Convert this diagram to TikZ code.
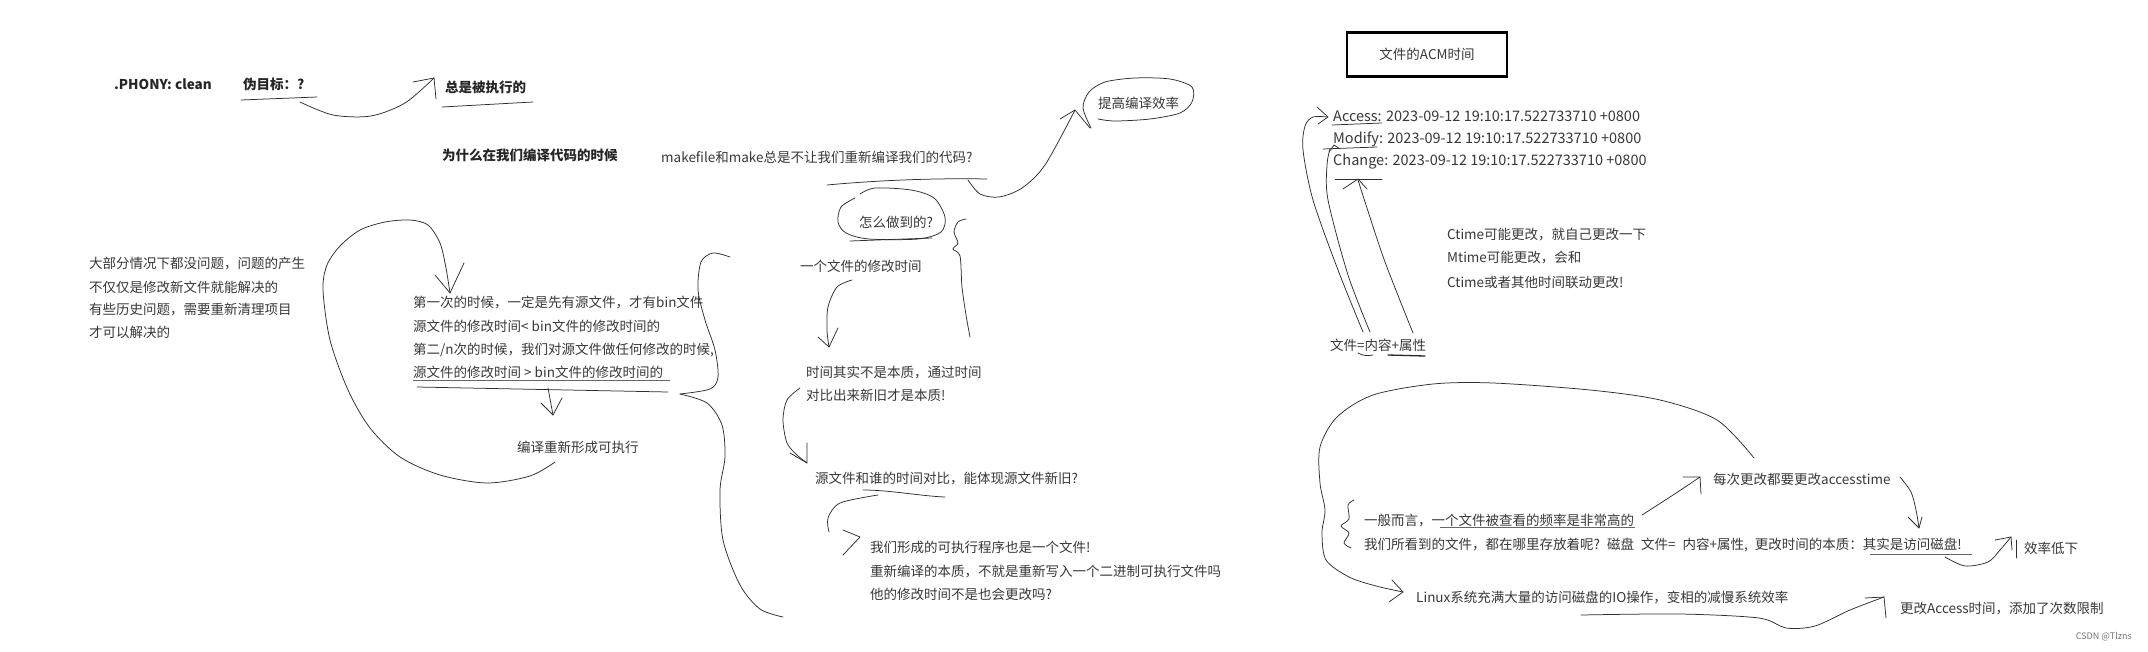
\documentclass[tikz,border=0pt]{standalone}
\usepackage{fontspec}
\setmainfont{Noto Sans CJK SC}
\begin{document}
\begin{tikzpicture}[x=1pt,y=-1pt,
  txt/.style={anchor=west, inner sep=0pt, text=black!78, font=\fontsize{13.5}{16}\selectfont},
  ltxt/.style={anchor=west, inner sep=0pt, text=black!78, font=\fontsize{14.5}{16}\selectfont},
  btxt/.style={anchor=west, inner sep=0pt, text=black!85, font=\fontsize{13.5}{16}\selectfont\bfseries},
  pen/.style={draw=black!82, line width=0.75pt, line cap=round, line join=round},
  uline/.style={draw=black!60, line width=0.6pt},
  thickpen/.style={draw=black!85, line width=1.3pt, line cap=round}]
\useasboundingbox[fill=white] (0,0) rectangle (2148,651);

% ---------- left part ----------
\node[btxt] (phony) at (114,84) {.PHONY: clean};
\node[btxt] (wei) at (243,84) {伪目标：?};
\node[btxt] (zong) at (445,87) {总是被执行的};
\node[btxt] (wsm) at (442,155) {为什么在我们编译代码的时候};

\draw[pen] (241,100) -- (317,97);
\draw[pen] plot[smooth] coordinates {(300,102) (333,115) (371,116) (405,103) (434,78)};
\draw[pen] (413,82) -- (434,78) -- (436,99);
\draw[pen] (442,107) -- (533,102);

\node[txt] (d1) at (89,264) {大部分情况下都没问题，问题的产生};
\node[txt] (d2) at (89,287) {不仅仅是修改新文件就能解决的};
\node[txt] (d3) at (89,310) {有些历史问题，需要重新清理项目};
\node[txt] (d4) at (89,332) {才可以解决的};

\node[txt] (f1) at (413,303) {第一次的时候，一定是先有源文件，才有bin文件};
\node[txt] (f2) at (413,326) {源文件的修改时间< bin文件的修改时间的};
\node[txt] (f3) at (413,350) {第二/n次的时候，我们对源文件做任何修改的时候,};
\node[txt] (f4) at (413,372) {源文件的修改时间 > bin文件的修改时间的};
\node[txt] (bian) at (517,447) {编译重新形成可执行};

\draw[uline] (413,380) -- (670,380);
\draw[pen] (417,387) -- (668,392);
\draw[pen] (548,388) -- (553,415);
\draw[pen] (541,403) -- (553,415) -- (562,398);

% big loop
\draw[pen] plot[smooth] coordinates {(555,462) (530,476) (487,483) (440,475) (400,457) (370,428) (348,390) (330,340) (323,290) (327,265) (340,246) (360,230) (385,222) (410,220) (428,225) (440,243) (446,268) (450,293)};
\draw[pen] (435,275) -- (450,293) -- (464,263);

% right brace curve
\draw[pen] plot[smooth] coordinates {(730,257) (713,253) (701,262) (698,290) (705,320) (715,350) (718,377) (710,389) (680,394)};
\draw[pen] plot[smooth] coordinates {(680,394) (707,403) (722,425) (725,457) (720,490) (723,540) (740,585) (760,609) (783,617)};

% ---------- middle part ----------
\node[txt] (mk) at (661,157) {makefile和make总是不让我们重新编译我们的代码?};
\node[txt] (tg) at (1098,103) {提高编译效率};
\node[txt] (zm) at (859,222) {怎么做到的?};
\node[txt] (yg) at (800,266) {一个文件的修改时间};
\node[txt] (sj1) at (806,372) {时间其实不是本质，通过时间};
\node[txt] (sj2) at (806,395) {对比出来新旧才是本质!};
\node[txt] (ywj) at (815,478) {源文件和谁的时间对比，能体现源文件新旧?};
\node[txt] (wm1) at (870,547) {我们形成的可执行程序也是一个文件!};
\node[txt] (wm2) at (870,571) {重新编译的本质，不就是重新写入一个二进制可执行文件吗};
\node[txt] (wm3) at (870,594) {他的修改时间不是也会更改吗?};

\draw[pen] (827,185) .. controls (880,180) and (940,178) .. (987,179);
\draw[pen] plot[smooth] coordinates {(968,180) (980,194) (999,197) (1022,188) (1045,165) (1075,110)};
\draw[pen] (1060,119) -- (1075,110) -- (1090,128);
\draw[pen] plot[smooth] coordinates {(1091,128) (1083,108) (1089,92) (1105,82) (1135,78) (1170,79) (1192,87) (1192,102) (1180,113) (1150,119) (1115,121) (1098,119)};

\draw[pen] plot[smooth] coordinates {(855,198) (841,207) (838,222) (846,233) (869,239) (918,239) (941,232) (945,217) (934,198) (911,190) (875,188) (860,194)};
\draw[pen] (850,241) -- (932,238);
\draw[pen] plot[smooth] coordinates {(966,219) (958,222) (954,232) (958,243) (953,249) (960,256) (962,287) (966,315) (970,337)};

\draw[pen] plot[smooth] coordinates {(852,280) (837,287) (828,307) (827,330) (829,347)};
\draw[pen] (818,337) -- (829,347) -- (838,328);

\draw[pen] plot[smooth] coordinates {(800,388) (787,400) (783,420) (787,443) (797,455) (807,463)};
\draw[pen] (807,443) -- (807,463) -- (790,453);

\draw[pen] (863,490) .. controls (890,490) and (920,496) .. (945,497);
\draw[pen] plot[smooth] coordinates {(878,495) (840,503) (828,518) (829,532)};
\draw[pen] (843,530) -- (860,537) -- (843,555);

% ---------- right part ----------
\node[draw=black, line width=2.6pt, minimum width=160pt, minimum height=44pt, inner sep=0pt,
      text=black!78, font=\fontsize{13.5}{16}\selectfont] (acm) at (1427,54.5) {文件的ACM时间};

\node[ltxt] (acc) at (1333,116) {Access: 2023-09-12 19:10:17.522733710 +0800};
\node[ltxt] (mod) at (1333,139) {Modify: 2023-09-12 19:10:17.522733710 +0800};
\node[ltxt] (chg) at (1333,162) {Change: 2023-09-12 19:10:17.522733710 +0800};
\draw[pen] (1332,125) -- (1382,123);
\draw[pen] (1323,149) -- (1377,147);
\draw[pen] (1335,179) -- (1382,179);

\draw[pen] plot[smooth] coordinates {(1363,332) (1338,270) (1313,200) (1303,150) (1305,126) (1313,117) (1327,117)};
\draw[pen] (1317,107) -- (1328,117) -- (1318,124);
\draw[pen] plot[smooth] coordinates {(1370,332) (1348,275) (1328,200) (1327,165) (1330,149)};
\draw[pen] (1329,152) -- (1334,145) -- (1340,149);
\draw[pen] plot[smooth] coordinates {(1413,333) (1385,262) (1366,205) (1358,180)};
\draw[pen] (1343,189) -- (1358,179) -- (1367,189);

\node[txt] (ct1) at (1447,235) {Ctime可能更改，就自己更改一下};
\node[txt] (ct2) at (1447,258) {Mtime可能更改，会和};
\node[txt] (ct3) at (1447,282) {Ctime或者其他时间联动更改!};

\node[txt] (wj) at (1330,345) {文件=内容+属性};
\draw[pen] (1358,353) .. controls (1363,356) and (1368,356) .. (1373,355);
\draw[thickpen] (1388,355) -- (1425,356);

\node[txt] (mc) at (1713,479) {每次更改都要更改accesstime};
\node[txt] (yb1) at (1364,520) {一般而言，一个文件被查看的频率是非常高的};
\node[txt] (yb2) at (1364,545) {我们所看到的文件，都在哪里存放着呢?\hspace{7pt}磁盘\hspace{7pt}文件=\hspace{7pt}内容+属性,\hspace{7pt}更改时间的本质：其实是访问磁盘!};
\node[txt] (xl) at (2024,548) {效率低下};
\node[txt] (lx) at (1416,597) {Linux系统充满大量的访问磁盘的IO操作，变相的减慢系统效率};
\node[txt] (gg) at (1900,609) {更改Access时间，添加了次数限制};
\node[anchor=east, inner sep=0pt, text=black!55, font=\fontsize{9}{11}\selectfont] (csdn) at (2132,637) {CSDN @Tlzns};

\draw[uline] (1440,527) -- (1635,527);
\draw[uline] (1870,554) -- (1972,554);

\draw[pen] plot[smooth] coordinates {(1754,458) (1717,420) (1660,400) (1590,390) (1493,383) (1433,384) (1373,395) (1337,417) (1320,447) (1320,483) (1325,510) (1322,533) (1326,560) (1349,577) (1376,586) (1403,592)};
\draw[pen] (1392,580) -- (1403,592) -- (1389,602);
\draw[pen] plot[smooth] coordinates {(1354,500) (1348,505) (1349,519) (1341,526) (1349,533) (1344,543) (1351,548)};

\draw[pen] plot[smooth] coordinates {(1642,515) (1670,497) (1700,477)};
\draw[pen] (1683,477) -- (1700,477) -- (1701,494);
\draw[pen] plot[smooth] coordinates {(1900,477) (1911,492) (1916,510) (1919,528)};
\draw[pen] (1908,517) -- (1919,528) -- (1922,517);
\draw[pen] plot[smooth] coordinates {(1945,557) (1965,566) (1988,562) (2000,550) (2011,537)};
\draw[pen] (1995,540) -- (2011,537) -- (2012,550);
\draw[pen] (2016,540) -- (2016,558);
\draw[pen] plot[smooth] coordinates {(1581,615) (1680,614) (1759,618) (1786,628) (1815,626) (1850,610) (1884,597)};
\draw[pen] (1865,598) -- (1884,597) -- (1886,618);
\end{tikzpicture}
\end{document}
